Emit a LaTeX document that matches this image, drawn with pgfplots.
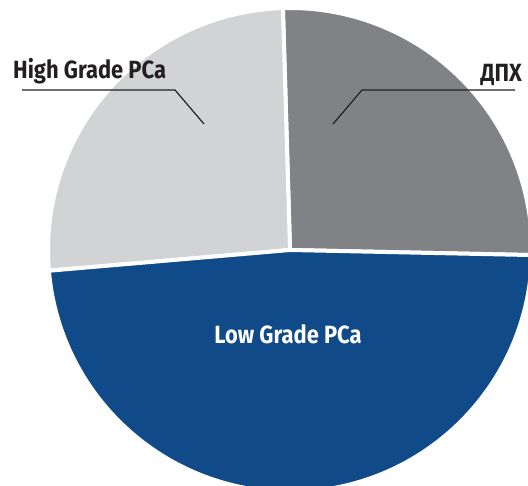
\documentclass[border=0pt]{standalone}
\usepackage{pgfplots}
\pgfplotsset{compat=1.18}
\usepackage{fontspec}
\setmainfont{Fira Sans}[FakeStretch=0.88]
\definecolor{dpx}{HTML}{808285}
\definecolor{lgray}{HTML}{D1D3D4}
\definecolor{pblue}{HTML}{114A89}
\definecolor{ink}{HTML}{231F20}
% slice shares (percent)
\def\vA{25.8} % DPKh
\def\vB{25.9} % High Grade PCa
\def\vC{48.3} % Low Grade PCa
\pgfmathsetmacro{\aS}{-1.2}
\pgfmathsetmacro{\aA}{\aS+3.6*\vA}
\pgfmathsetmacro{\aB}{\aA+3.6*\vB}
\pgfmathsetmacro{\aC}{\aB+3.6*\vC}
\begin{document}
\begin{tikzpicture}
\begin{axis}[x=1bp,y=1bp,hide axis,xmin=-290,xmax=238,ymin=-236,ymax=250,clip=true]
\fill[dpx,draw=white,line width=4bp] (axis cs:0,0) -- (axis cs:{242*cos(\aS)},{242*sin(\aS)}) arc[start angle=\aS,end angle=\aA,radius=242bp] -- cycle;
\fill[lgray,draw=white,line width=4bp] (axis cs:0,0) -- (axis cs:{242*cos(\aA)},{242*sin(\aA)}) arc[start angle=\aA,end angle=\aB,radius=242bp] -- cycle;
\fill[pblue,draw=white,line width=4bp] (axis cs:0,0) -- (axis cs:{242*cos(\aB)},{242*sin(\aB)}) arc[start angle=\aB,end angle=\aC,radius=242bp] -- cycle;
\draw[ink,line width=1.2bp] (axis cs:-268,160) -- (axis cs:-115,160) -- (axis cs:-86,126);
\draw[ink,line width=1.2bp] (axis cs:43,126) -- (axis cs:72,160) -- (axis cs:225,160);
\node[anchor=base west,inner sep=0pt,text=ink,font=\bfseries\fontsize{25}{29}\selectfont] at (axis cs:-277,171) {High Grade PCa};
\node[anchor=base east,inner sep=0pt,text=ink,font=\bfseries\fontsize{25}{29}\selectfont] at (axis cs:232,168) {ДПХ};
\node[anchor=base,inner sep=0pt,text=white,font=\bfseries\fontsize{25}{29}\selectfont] at (axis cs:-2,-94) {Low Grade PCa};
\end{axis}
\pgfresetboundingbox
\path (current axis.south west) rectangle (current axis.north east);
\end{tikzpicture}
\end{document}
